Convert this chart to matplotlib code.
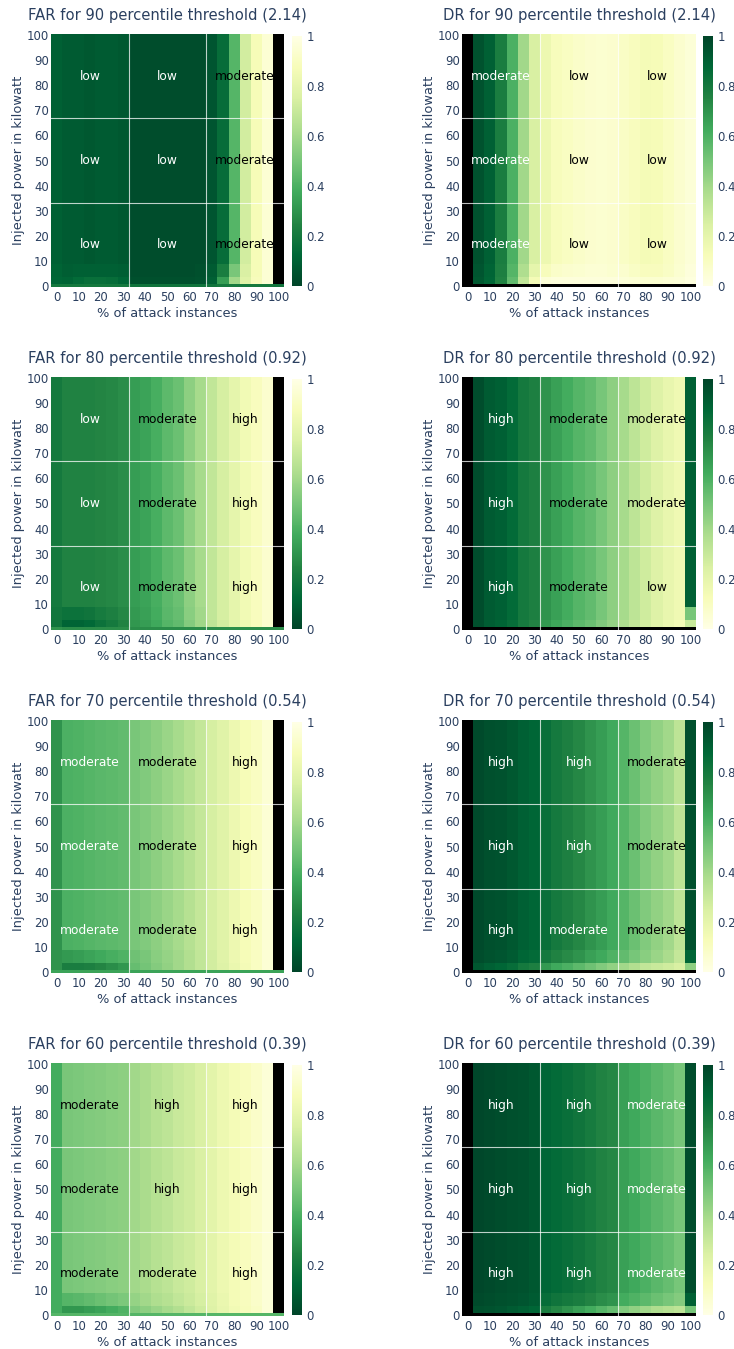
#heatmaps of false alarm rate (FAR) and detection rate (DR) per percentile threshold
import matplotlib
matplotlib.use("Agg")
import matplotlib.pyplot as plt
import numpy as np

nan = np.nan

# % of attack instances, one heatmap column each
attack_pct = [0, 5, 10, 15, 20, 25, 30, 35, 40, 45, 50, 55, 60, 65, 70, 75, 80, 85, 90, 95, 100]
# injected power bands (kW): first row of each band, the last band runs up to max_kw
band_start_kw = [0, 1, 4, 9]
max_kw = 100

# FAR, 90 percentile threshold (2.14)
far90_base = [0.2, 0.2, 0.2, 0.2, 0.2, 0.2, 0.2, 0.18, 0.18, 0.18, 0.18, 0.18, 0.18, 0.18, 0.18, 0.2, 0.2, 0.2, 0.2, 0.2, 0.18]
far90_low = [0.12, 0.11, 0.14, 0.16, 0.16, 0.15, 0.12, 0.04, 0.04, 0.04, 0.04, 0.04, 0.04, 0.05, 0.1, 0.33, 0.6, 0.78, 0.88, 0.95, nan]
far90_mid = [0.11, 0.09, 0.1, 0.1, 0.1, 0.1, 0.09, 0.03, 0.03, 0.03, 0.03, 0.03, 0.03, 0.04, 0.08, 0.22, 0.5, 0.75, 0.87, 0.95, nan]
far90_bulk = [0.1, 0.08, 0.08, 0.07, 0.08, 0.08, 0.07, 0.03, 0.03, 0.03, 0.03, 0.03, 0.03, 0.03, 0.06, 0.15, 0.42, 0.73, 0.87, 0.95, nan]

# DR, 90 percentile threshold (2.14)
dr90_base = [nan, nan, nan, nan, nan, nan, nan, nan, nan, nan, nan, nan, nan, nan, nan, nan, nan, nan, nan, nan, nan]
dr90_low = [nan, 0.93, 0.88, 0.76, 0.55, 0.32, 0.14, 0.04, 0.03, 0.03, 0.03, 0.03, 0.03, 0.03, 0.04, 0.05, 0.06, 0.06, 0.05, 0.04, 0.02]
dr90_mid = [nan, 0.94, 0.89, 0.77, 0.58, 0.37, 0.2, 0.12, 0.08, 0.07, 0.06, 0.05, 0.05, 0.06, 0.07, 0.09, 0.11, 0.11, 0.09, 0.06, 0.03]
dr90_bulk = [nan, 0.95, 0.9, 0.78, 0.6, 0.4, 0.25, 0.17, 0.12, 0.1, 0.08, 0.07, 0.06, 0.07, 0.09, 0.11, 0.14, 0.13, 0.1, 0.07, 0.04]

# FAR, 80 percentile threshold (0.92)
far80_base = [0.3, 0.28, 0.28, 0.28, 0.28, 0.28, 0.28, 0.28, 0.28, 0.28, 0.28, 0.28, 0.28, 0.28, 0.28, 0.28, 0.28, 0.28, 0.28, 0.28, 0.28]
far80_low = [0.18, 0.11, 0.11, 0.13, 0.17, 0.2, 0.24, 0.31, 0.33, 0.37, 0.42, 0.45, 0.53, 0.59, 0.67, 0.73, 0.79, 0.84, 0.88, 0.93, nan]
far80_mid = [0.19, 0.17, 0.17, 0.18, 0.21, 0.23, 0.26, 0.32, 0.34, 0.38, 0.43, 0.46, 0.54, 0.6, 0.68, 0.74, 0.8, 0.85, 0.89, 0.93, nan]
far80_bulk = [0.2, 0.24, 0.24, 0.24, 0.25, 0.26, 0.28, 0.33, 0.35, 0.39, 0.44, 0.47, 0.55, 0.61, 0.68, 0.74, 0.8, 0.85, 0.89, 0.93, nan]

# DR, 80 percentile threshold (0.92)
dr80_base = [nan, nan, nan, nan, nan, nan, nan, nan, nan, nan, nan, nan, nan, nan, nan, nan, nan, nan, nan, nan, nan]
dr80_low = [nan, 0.96, 0.91, 0.89, 0.85, 0.79, 0.75, 0.68, 0.64, 0.6, 0.56, 0.53, 0.48, 0.43, 0.37, 0.31, 0.26, 0.21, 0.17, 0.14, 0.3]
dr80_mid = [nan, 0.97, 0.92, 0.9, 0.86, 0.8, 0.77, 0.7, 0.66, 0.62, 0.58, 0.55, 0.5, 0.45, 0.39, 0.33, 0.28, 0.23, 0.19, 0.16, 0.5]
dr80_bulk = [nan, 0.97, 0.92, 0.9, 0.86, 0.8, 0.77, 0.7, 0.66, 0.62, 0.58, 0.55, 0.5, 0.45, 0.39, 0.33, 0.28, 0.23, 0.19, 0.16, 0.9]

# FAR, 70 percentile threshold (0.54)
far70_base = [0.35, 0.35, 0.35, 0.35, 0.35, 0.35, 0.35, 0.35, 0.35, 0.35, 0.35, 0.35, 0.35, 0.35, 0.35, 0.35, 0.35, 0.35, 0.35, 0.35, 0.35]
far70_low = [0.3, 0.22, 0.22, 0.23, 0.25, 0.28, 0.31, 0.46, 0.49, 0.53, 0.56, 0.6, 0.64, 0.68, 0.73, 0.77, 0.82, 0.86, 0.9, 0.95, nan]
far70_mid = [0.3, 0.32, 0.33, 0.35, 0.37, 0.39, 0.41, 0.48, 0.5, 0.54, 0.57, 0.6, 0.64, 0.68, 0.73, 0.78, 0.83, 0.87, 0.9, 0.95, nan]
far70_bulk = [0.3, 0.4, 0.41, 0.42, 0.43, 0.44, 0.45, 0.5, 0.52, 0.55, 0.58, 0.61, 0.65, 0.69, 0.74, 0.78, 0.83, 0.87, 0.9, 0.95, nan]

# DR, 70 percentile threshold (0.54)
dr70_base = [nan, nan, nan, nan, nan, nan, nan, nan, nan, nan, nan, nan, nan, nan, nan, nan, nan, nan, nan, nan, nan]
dr70_low = [nan, 0.93, 0.9, 0.88, 0.85, 0.8, 0.77, 0.68, 0.63, 0.6, 0.56, 0.52, 0.48, 0.44, 0.4, 0.36, 0.32, 0.3, 0.28, 0.25, 0.45]
dr70_mid = [nan, 0.97, 0.95, 0.94, 0.92, 0.88, 0.86, 0.8, 0.76, 0.73, 0.7, 0.66, 0.63, 0.59, 0.55, 0.5, 0.46, 0.42, 0.38, 0.31, 0.88]
dr70_bulk = [nan, 0.98, 0.96, 0.95, 0.93, 0.9, 0.88, 0.84, 0.8, 0.77, 0.74, 0.7, 0.67, 0.63, 0.58, 0.53, 0.48, 0.44, 0.4, 0.33, 0.96]

# FAR, 60 percentile threshold (0.39)
far60_base = [0.42, 0.42, 0.42, 0.42, 0.42, 0.42, 0.42, 0.42, 0.42, 0.42, 0.42, 0.42, 0.42, 0.42, 0.42, 0.42, 0.42, 0.42, 0.42, 0.42, 0.42]
far60_low = [0.38, 0.31, 0.31, 0.33, 0.35, 0.38, 0.41, 0.52, 0.55, 0.58, 0.61, 0.64, 0.68, 0.72, 0.77, 0.81, 0.85, 0.88, 0.91, 0.96, nan]
far60_mid = [0.38, 0.42, 0.43, 0.45, 0.47, 0.49, 0.51, 0.57, 0.6, 0.63, 0.65, 0.68, 0.71, 0.74, 0.78, 0.82, 0.86, 0.89, 0.92, 0.96, nan]
far60_bulk = [0.38, 0.5, 0.51, 0.52, 0.53, 0.54, 0.55, 0.6, 0.62, 0.65, 0.67, 0.7, 0.72, 0.75, 0.79, 0.83, 0.86, 0.89, 0.92, 0.96, nan]

# DR, 60 percentile threshold (0.39)
dr60_base = [nan, nan, nan, nan, nan, nan, nan, nan, nan, nan, nan, nan, nan, nan, nan, nan, nan, nan, nan, nan, nan]
dr60_low = [nan, 0.96, 0.95, 0.94, 0.92, 0.9, 0.88, 0.78, 0.74, 0.7, 0.66, 0.62, 0.58, 0.54, 0.48, 0.44, 0.4, 0.37, 0.35, 0.33, 0.5]
dr60_mid = [nan, 0.98, 0.97, 0.96, 0.95, 0.94, 0.92, 0.85, 0.82, 0.8, 0.78, 0.75, 0.72, 0.7, 0.62, 0.59, 0.56, 0.53, 0.5, 0.47, 0.9]
dr60_bulk = [nan, 0.99, 0.98, 0.97, 0.96, 0.95, 0.93, 0.88, 0.86, 0.84, 0.82, 0.79, 0.76, 0.74, 0.66, 0.63, 0.6, 0.57, 0.54, 0.5, 0.97]

# 3x3 rating labels, top row first
far90_labels = [["low", "low", "moderate"], ["low", "low", "moderate"], ["low", "low", "moderate"]]
dr90_labels = [["moderate", "low", "low"], ["moderate", "low", "low"], ["moderate", "low", "low"]]
far80_labels = [["low", "moderate", "high"], ["low", "moderate", "high"], ["low", "moderate", "high"]]
dr80_labels = [["high", "moderate", "moderate"], ["high", "moderate", "moderate"], ["high", "moderate", "low"]]
far70_labels = [["moderate", "moderate", "high"], ["moderate", "moderate", "high"], ["moderate", "moderate", "high"]]
dr70_labels = [["high", "high", "moderate"], ["high", "high", "moderate"], ["high", "moderate", "moderate"]]
far60_labels = [["moderate", "high", "high"], ["moderate", "high", "high"], ["moderate", "moderate", "high"]]
dr60_labels = [["high", "high", "moderate"], ["high", "high", "moderate"], ["high", "high", "moderate"]]

W, H = 734, 1349
TXT = "#2a3f5f"
plt.rcParams["font.family"] = ["DejaVu Sans"]

panels = [
    ("FAR for 90 percentile threshold (2.14)", "YlGn_r", [far90_base, far90_low, far90_mid, far90_bulk], far90_labels,
     [["white", "white", "black"]] * 3),
    ("DR for 90 percentile threshold (2.14)", "YlGn", [dr90_base, dr90_low, dr90_mid, dr90_bulk], dr90_labels,
     [["white", "black", "black"]] * 3),
    ("FAR for 80 percentile threshold (0.92)", "YlGn_r", [far80_base, far80_low, far80_mid, far80_bulk], far80_labels,
     [["white", "black", "black"]] * 3),
    ("DR for 80 percentile threshold (0.92)", "YlGn", [dr80_base, dr80_low, dr80_mid, dr80_bulk], dr80_labels,
     [["white", "black", "black"]] * 3),
    ("FAR for 70 percentile threshold (0.54)", "YlGn_r", [far70_base, far70_low, far70_mid, far70_bulk], far70_labels,
     [["white", "black", "black"]] * 3),
    ("DR for 70 percentile threshold (0.54)", "YlGn", [dr70_base, dr70_low, dr70_mid, dr70_bulk], dr70_labels,
     [["white", "white", "black"]] * 3),
    ("FAR for 60 percentile threshold (0.39)", "YlGn_r", [far60_base, far60_low, far60_mid, far60_bulk], far60_labels,
     [["black", "black", "black"]] * 3),
    ("DR for 60 percentile threshold (0.39)", "YlGn", [dr60_base, dr60_low, dr60_mid, dr60_bulk], dr60_labels,
     [["white", "white", "white"]] * 3),
]


def px_rect(left, top, width, height):
    return [left / W, 1 - (top + height) / H, width / W, height / H]


def draw_panel(fig, rect, cb_rect, title, cmap_name, rows, labels, label_colors):
    ax = fig.add_axes(rect)
    x = np.array(attack_pct, dtype=float)
    step = x[1] - x[0]
    x_edges = np.r_[x - step / 2, x[-1] + step / 2]
    y_edges = np.r_[np.array(band_start_kw) - 0.5, max_kw + 0.5]
    z = np.ma.masked_invalid(np.array(rows, dtype=float))
    cmap = plt.get_cmap(cmap_name).copy()
    cmap.set_bad("black")
    mesh = ax.pcolormesh(x_edges, y_edges, z, cmap=cmap, vmin=0, vmax=1)
    ax.set_xlim(x_edges[0], x_edges[-1])
    ax.set_ylim(y_edges[0], y_edges[-1])

    # white lines split the map into a 3x3 grid of rated regions
    for f in (1 / 3, 2 / 3):
        ax.axvline(x_edges[0] + f * (x_edges[-1] - x_edges[0]), color="white", lw=0.8, alpha=0.75)
        ax.axhline(y_edges[0] + f * (y_edges[-1] - y_edges[0]), color="white", lw=0.8, alpha=0.75)
    for r in range(3):
        for c in range(3):
            ax.text((c + 0.5) / 3, 1 - (r + 0.5) / 3, labels[r][c], transform=ax.transAxes,
                    ha="center", va="center", fontsize=8.8, color=label_colors[r][c])

    ax.set_xticks(range(0, 101, 10))
    ax.set_yticks(range(0, 101, 10))
    ax.tick_params(length=0, labelsize=8.4, labelcolor=TXT, pad=3)
    ax.tick_params(axis="y", pad=1.5)
    for s in ax.spines.values():
        s.set_visible(False)
    ax.set_title(title, fontsize=10.6, color=TXT, pad=10)
    ax.set_xlabel("% of attack instances", fontsize=9.4, color=TXT, labelpad=2)
    ax.set_ylabel("Injected power in kilowatt", fontsize=9.4, color=TXT, labelpad=1.5)

    cax = fig.add_axes(cb_rect)
    cb = fig.colorbar(mesh, cax=cax)
    cb.outline.set_visible(False)
    cb.set_ticks([0, 0.2, 0.4, 0.6, 0.8, 1])
    cb.set_ticklabels(["0", "0.2", "0.4", "0.6", "0.8", "1"])
    cax.tick_params(length=0, labelsize=8.4, labelcolor=TXT, pad=3)


fig = plt.figure(figsize=(W / 100, H / 100), dpi=100)
row_tops = [34, 377, 720, 1063]
for i, (title, cmap_name, rows, labels, label_colors) in enumerate(panels):
    top = row_tops[i // 2]
    if i % 2 == 0:
        rect = px_rect(51, top, 233, 253)
        cb_rect = px_rect(292, top + 2, 10, 250)
    else:
        rect = px_rect(462, top, 234, 253)
        cb_rect = px_rect(703, top + 2, 10, 250)
    draw_panel(fig, rect, cb_rect, title, cmap_name, rows, labels, label_colors)

fig.savefig("out.png", dpi=100)
